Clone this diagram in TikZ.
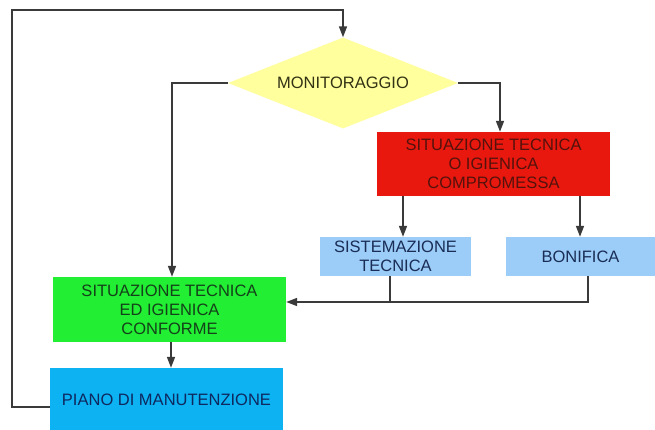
\documentclass[tikz,border=0pt]{standalone}
\usepackage{fontspec}
\setmainfont{Liberation Sans}
\usetikzlibrary{shapes.geometric,arrows.meta,calc}
\definecolor{yel}{HTML}{FFFF9E}
\definecolor{redb}{HTML}{E8180E}
\definecolor{lblue}{HTML}{9CCCF8}
\definecolor{greenb}{HTML}{22EE33}
\definecolor{blueb}{HTML}{0CB2F2}
\definecolor{linec}{HTML}{3A3A3A}
\begin{document}
\begin{tikzpicture}[x=1pt,y=-1pt,
  txt/.style={font=\fontsize{16.5}{19}\selectfont, align=center, inner sep=0pt},
  box/.style={txt, draw=none, rectangle},
  conn/.style={draw=linec, line width=1.6pt, -{Triangle[length=11pt,width=8pt]}},
  plain/.style={draw=linec, line width=1.6pt}]
\useasboundingbox (0,0) rectangle (655,430);
\clip (0,0) rectangle (655,430);
\fill[white] (0,0) rectangle (655,430);
\node[txt, shape=diamond, fill=yel, aspect=2.53, minimum width=230pt, minimum height=91pt, text={rgb,255:red,50;green,50;blue,20}] (mon) at (343,83) {MONITORAGGIO};
\node[box, fill=redb, minimum width=233pt, minimum height=64pt, text={rgb,255:red,85;green,18;blue,12}] (comp) at (493.5,164) {SITUAZIONE TECNICA\\O IGIENICA\\COMPROMESSA};
\node[box, fill=lblue, minimum width=151pt, minimum height=39pt, text={rgb,255:red,25;green,45;blue,85}] (sis) at (395.5,256.5) {SISTEMAZIONE\\TECNICA};
\node[box, fill=lblue, minimum width=149pt, minimum height=39pt, text={rgb,255:red,25;green,45;blue,85}] (bon) at (580.5,256.5) {BONIFICA};
\node[box, fill=greenb, minimum width=233pt, minimum height=65pt, text={rgb,255:red,20;green,65;blue,25}] (conf) at (169.5,309.5) {SITUAZIONE TECNICA\\ED IGIENICA\\CONFORME};
\node[box, fill=blueb, minimum width=233pt, minimum height=64pt, text={rgb,255:red,15;green,40;blue,95}] (piano) at (166.5,400) {PIANO DI MANUTENZIONE};
\coordinate (tl) at (12,10);
\coordinate (merge) at ([xshift=-5.5pt]sis.south |- 0,302);
\coordinate (bontop) at ([xshift=-0.5pt]bon.north |- comp.south);
% loop back
\draw[conn] ([yshift=-7pt]piano.west) -| (tl) -| (mon.north);
% monitoraggio branches
\draw[conn] (mon.west) -| ([xshift=2.5pt]conf.north);
\draw[conn] (mon.east) -| ([xshift=6.5pt]comp.north);
% compromessa to sub-boxes
\draw[conn] ([xshift=7.5pt]sis.north |- comp.south) -- ([xshift=7.5pt]sis.north);
\draw[conn] (bontop) -- ([xshift=-0.5pt]bon.north);
% merge back into conforme
\draw[conn] ([xshift=7.5pt]bon.south) |- ([yshift=7.5pt]conf.east);
\draw[plain] ([xshift=-5.5pt]sis.south) -- (merge);
% conforme to piano
\draw[conn] ([xshift=1.5pt]conf.south) -- ([xshift=1.5pt]conf.south |- piano.north);
\end{tikzpicture}
\end{document}
